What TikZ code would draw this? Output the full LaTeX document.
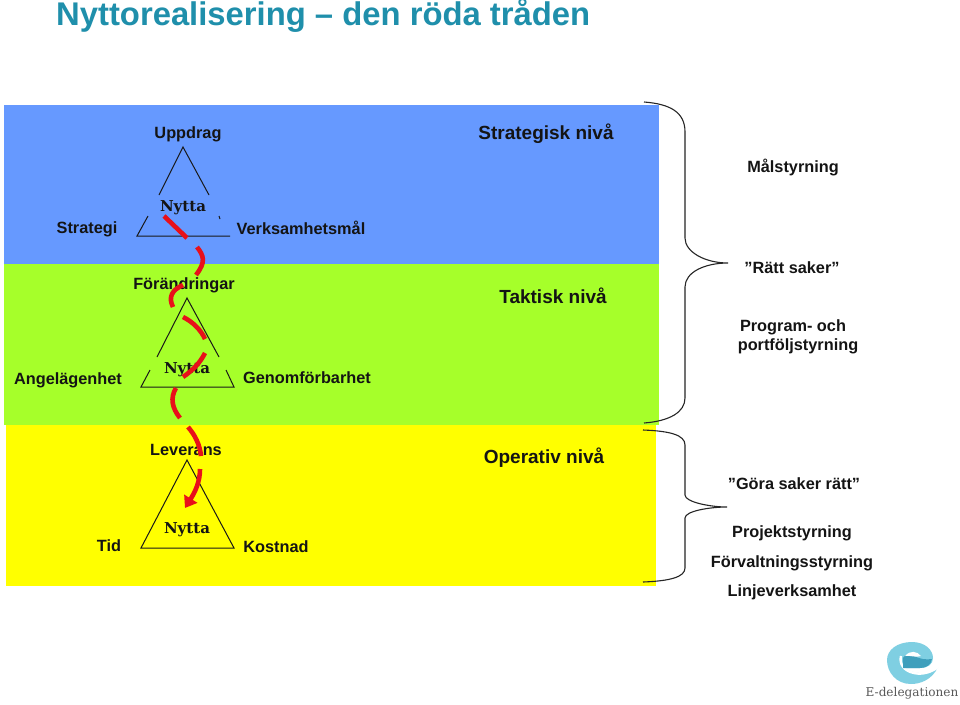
\documentclass[tikz,border=0pt]{standalone}
\usepackage{fontspec}
\setmainfont{Liberation Sans}
\newfontfamily\nyttafont{DejaVu Serif}
\usetikzlibrary{arrows.meta}
\definecolor{bandblue}{HTML}{6699FF}
\definecolor{bandgreen}{HTML}{A6FF2A}
\definecolor{bandyellow}{HTML}{FFFF00}
\definecolor{titleteal}{HTML}{1F8FAB}
\definecolor{redline}{HTML}{E8101A}
\definecolor{logolight}{HTML}{7FCFE2}
\definecolor{logodark}{HTML}{3F9FBC}
\tikzset{
 lab/.style={inner sep=0pt,font=\fontsize{16.3}{19}\selectfont\bfseries,text=black!92},
 big/.style={inner sep=0pt,font=\fontsize{19}{22}\selectfont\bfseries,text=black!92},
 nyt/.style={inner sep=0pt,font=\fontsize{15}{18}\selectfont\nyttafont\bfseries,text=black!92},
 tri/.style={draw=black!90,line width=1pt},
 brace/.style={draw=black!85,line width=1.1pt},
 redseg/.style={draw=redline,line width=4.6pt},
}
\begin{document}
\begin{tikzpicture}[x=1pt,y=-1pt]
\useasboundingbox (0,0) rectangle (960,704);
\fill[white] (0,0) rectangle (960,704);
\fill[bandblue] (4,105) rectangle (659,264);
\fill[bandgreen] (4,264) rectangle (659,425);
\fill[bandyellow] (6,425) rectangle (656,586);
\node[inner sep=0pt,anchor=west,text=titleteal,font=\fontsize{32.8}{38}\selectfont\bfseries] (title) at (56,15) {Nyttorealisering -- den röda tråden};
% triangle 1
\draw[tri] (159,195) -- (183,147) -- (209,195);
\draw[tri] (148,216) -- (137,236) -- (230,236);
\draw[tri] (219,216) -- (220,219);
% triangle 2
\draw[tri] (157,357) -- (187,298) -- (219,357);
\draw[tri] (150,370) -- (141,387) -- (234,387) -- (226,370);
% triangle 3
\draw[tri] (187,460) -- (141,548) -- (234,548) -- cycle;
% labels
\node[lab] (uppdrag) at (188,134) {Uppdrag};
\node[big] (strat) at (546,134) {Strategisk nivå};
\node[lab] (malst) at (793,168) {Målstyrning};
\node[lab] (strategi) at (87,229) {Strategi};
\node[nyt] (nytta1) at (183,208) {Nytta};
\node[lab] (vm) at (301,228) {Verksamhetsmål};
\node[lab] (forand) at (184,285) {Förändringar};
\node[big] (takt) at (553,296) {Taktisk nivå};
\node[lab] (ratt) at (792,268) {”Rätt saker”};
\node[lab] (prog) at (793,327) {Program- och};
\node[lab] (port) at (798,346) {portföljstyrning};
\node[lab] (ang) at (68,380) {Angelägenhet};
\node[nyt] (nytta2) at (187,370) {Nytta};
\node[lab] (gen) at (307,378) {Genomförbarhet};
\node[lab] (lev) at (186,450) {Leverans};
\node[big] (oper) at (544,458) {Operativ nivå};
\node[lab] (gora) at (794,484) {”Göra saker rätt”};
\node[lab] (tid) at (109,546) {Tid};
\node[nyt] (nytta3) at (187,530) {Nytta};
\node[lab] (kost) at (276,547) {Kostnad};
\node[lab] (proj) at (792,533) {Projektstyrning};
\node[lab] (forv) at (792,563) {Förvaltningsstyrning};
\node[lab] (linj) at (792,592) {Linjeverksamhet};
% red thread
\draw[redseg] (164,216) -- (187,238);
\draw[redseg] (197,247) .. controls (204,256) and (206,262) .. (196,275);
\draw[redseg] (173,307) .. controls (168,297) and (172,290) .. (183,285);
\draw[redseg] (183,317) .. controls (193,322) and (201,330) .. (205,339);
\draw[redseg] (205,353) .. controls (200,363) and (193,370) .. (183,377);
\draw[redseg] (176,388) .. controls (170,398) and (172,408) .. (180,418);
\draw[redseg] (188,427) .. controls (195,435) and (200,445) .. (201,456);
\draw[redseg,-{Triangle[length=11pt,width=15pt]}] (200,469) .. controls (200,482) and (195,492) .. (185,508);
% braces
\draw[brace] (644,102) .. controls (670,104) and (685,112) .. (685,132) -- (685,238)
  .. controls (685,252) and (705,263) .. (728,263)
  .. controls (705,263) and (685,272) .. (685,287) -- (685,398)
  .. controls (685,412) and (670,421) .. (644,423);
\draw[brace] (643,430) .. controls (670,431) and (685,435) .. (685,445) -- (685,495)
  .. controls (685,502) and (710,507) .. (727,507)
  .. controls (710,507) and (685,511) .. (685,518) -- (685,568)
  .. controls (685,577) and (670,581) .. (643,582);
% logo
\fill[logolight] (938,667) .. controls (932,680) and (920,684) .. (911,684)
  .. controls (896,684) and (887,672) .. (887,660)
  .. controls (887,650) and (897,642) .. (912,642)
  .. controls (925,642) and (933,650) .. (933,658)
  .. controls (933,664) and (928,668) .. (920,668) -- (905,668)
  .. controls (912,674) and (928,676) .. (938,667) -- cycle;
\draw[white,line width=2.4pt] (901,656) .. controls (899,664) and (904,671) .. (914,673)
  .. controls (922,675) and (932,672) .. (938,667);
\fill[logodark] (903,668) -- (903,658) .. controls (905,654) and (910,654) .. (914,656)
  .. controls (920,659) and (926,660) .. (932,659)
  .. controls (931,665) and (926,668) .. (920,668) -- cycle;
\fill[white] (905,656) .. controls (910,650) and (917,651) .. (921,656) .. controls (916,658) and (910,655) .. (905,656) -- cycle;
\node[inner sep=0pt,font=\fontsize{12.1}{15}\selectfont\nyttafont,text=black!65] (logo) at (912,693) {E-delegationen};
\end{tikzpicture}
\end{document}
